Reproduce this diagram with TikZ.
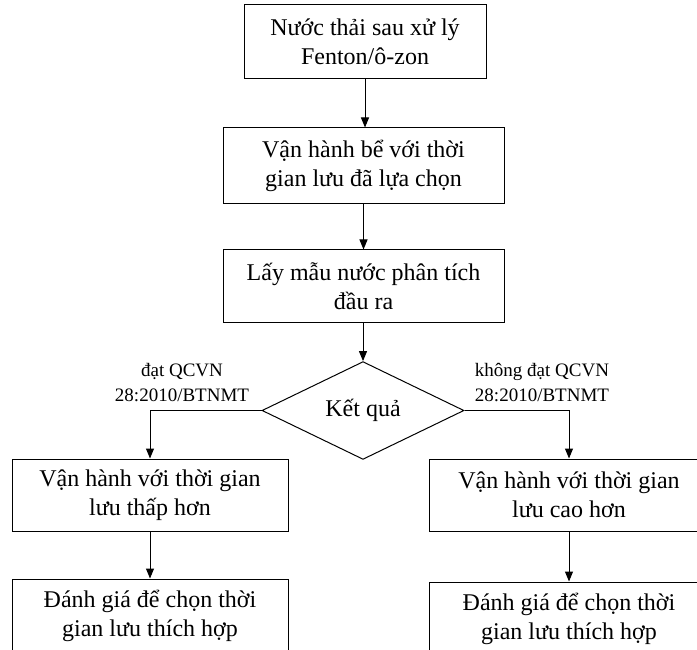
\documentclass[tikz,border=0pt]{standalone}
\usepackage{fontspec}
\setmainfont{Liberation Serif}
\usetikzlibrary{shapes.geometric,arrows.meta}
\begin{document}
\begin{tikzpicture}[x=1pt,y=-1pt,
  box/.style={draw,line width=1pt,rectangle,align=center,inner sep=0pt,
    font=\fontsize{24}{29}\selectfont},
  dec/.style={draw,line width=1pt,diamond,inner sep=0pt,
    minimum width=202pt,minimum height=95pt,font=\fontsize{24}{29}\selectfont},
  lab/.style={align=center,inner sep=0pt,font=\fontsize{19}{25}\selectfont},
  arr/.style={line width=1pt,-{Triangle[length=10pt,width=8pt]}}]
\useasboundingbox (0,0) rectangle (697,650);
\node[box,minimum width=242pt,minimum height=74pt] (b1) at (365,42) {Nước thải sau xử lý\\Fenton/ô-zon};
\node[box,minimum width=281pt,minimum height=76pt] (b2) at (363.5,166) {Vận hành bể với thời\\gian lưu đã lựa chọn};
\node[box,minimum width=281pt,minimum height=72pt] (b3) at (363.5,286) {Lấy mẫu nước phân tích\\đầu ra};
\node[dec] (d) at (363,410.5) {Kết quả};
\node[box,minimum width=276pt,minimum height=72pt] (b4) at (150,495) {Vận hành với thời gian\\lưu thấp hơn};
\node[box,minimum width=280pt,minimum height=72pt] (b5) at (569,495) {Vận hành với thời gian\\lưu cao hơn};
\node[box,minimum width=276pt,minimum height=74pt] (b6) at (150,616) {Đánh giá để chọn thời\\gian lưu thích hợp};
\node[box,minimum width=280pt,minimum height=74pt] (b7) at (569,619) {Đánh giá để chọn thời\\gian lưu thích hợp};
\node[lab] (l1) at (182,383) {đạt QCVN\\28:2010/BTNMT};
\node[lab] (l2) at (542,383) {không đạt QCVN\\28:2010/BTNMT};
\draw[arr] (b1.south -| 365,0) -- (b2.north -| 365,0);
\draw[arr] (b2.south) -- (b3.north);
\draw[arr] (b3.south -| d.north) -- (d.north);
\draw[arr] (d.west) -| (b4.north);
\draw[arr] (d.east) -| (b5.north);
\draw[arr] (b4.south) -- (b6.north);
\draw[arr] (b5.south) -- (b7.north);
\end{tikzpicture}
\end{document}
